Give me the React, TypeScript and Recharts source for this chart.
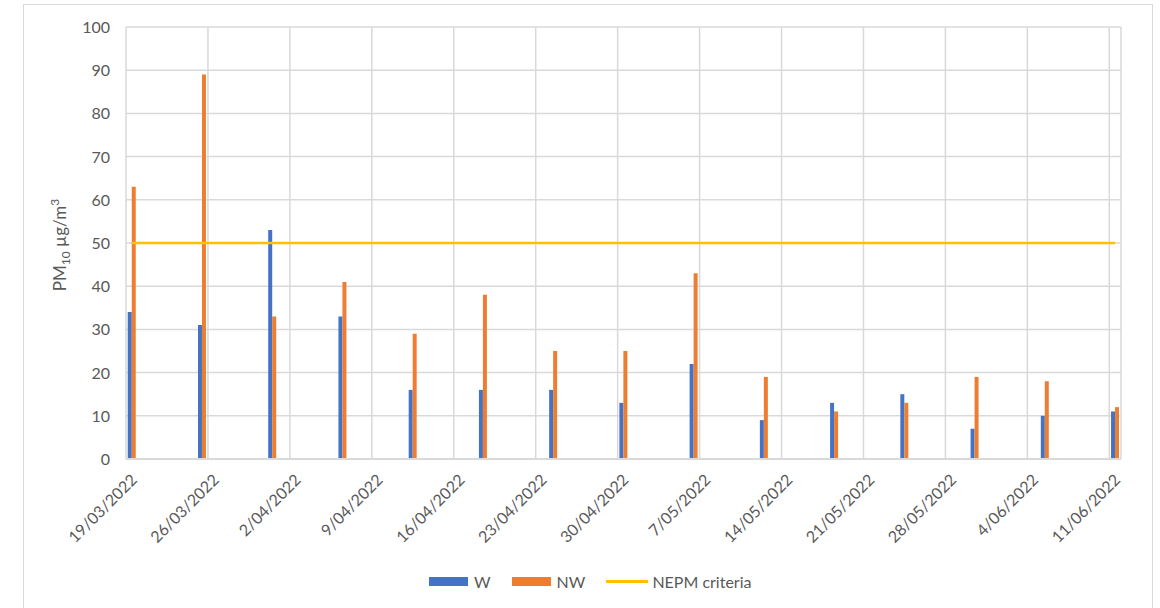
import {
  Bar,
  CartesianGrid,
  ComposedChart,
  Line,
  XAxis,
  YAxis,
} from "recharts";

const FONT = "Lato, 'Liberation Sans', sans-serif";
const TEXT = "#595959";
const GRID = "#d9d9d9";

// sampling dates (every 6 days)
const sampleDates = [
  "19/03/2022", "25/03/2022", "31/03/2022", "6/04/2022", "12/04/2022",
  "18/04/2022", "24/04/2022", "30/04/2022", "6/05/2022", "12/05/2022",
  "18/05/2022", "24/05/2022", "30/05/2022", "5/06/2022", "11/06/2022",
];
const wValues = [34, 31, 53, 33, 16, 16, 16, 13, 22, 9, 13, 15, 7, 10, 11];
const nwValues = [63, 89, 33, 41, 29, 38, 25, 25, 43, 19, 11, 13, 19, 18, 12];
const nepmCriteria = 50;

const tickDates = [
  "19/03/2022", "26/03/2022", "2/04/2022", "9/04/2022", "16/04/2022",
  "23/04/2022", "30/04/2022", "7/05/2022", "14/05/2022", "21/05/2022",
  "28/05/2022", "4/06/2022", "11/06/2022",
];
const yTicks = [0, 10, 20, 30, 40, 50, 60, 70, 80, 90, 100];

const series = [
  { key: "w", name: "W", color: "#4472C4", kind: "bar" },
  { key: "nw", name: "NW", color: "#ED7D31", kind: "bar" },
  { key: "nepm", name: "NEPM criteria", color: "#FFC000", kind: "line" },
];

const DAY = 24 * 60 * 60 * 1000;
const toTime = (s: string) => {
  const [d, m, y] = s.split("/").map(Number);
  return Date.UTC(y, m - 1, d);
};
const start = toTime(sampleDates[0]);
const dayIndex = (s: string) => Math.round((toTime(s) - start) / DAY);
const totalDays = dayIndex(tickDates[tickDates.length - 1]) + 1;

// bars sit in the middle of their day
const data = sampleDates.map((d, i) => ({
  x: dayIndex(d) + 0.5,
  w: wValues[i],
  nw: nwValues[i],
  nepm: nepmCriteria,
}));
const xTicks = tickDates.map(dayIndex);
const tickLabel = new Map(tickDates.map((d) => [dayIndex(d), d]));

const XTick = ({ x, y, payload }: any) => (
  <g transform={`translate(${x + 12},${y + 14}) rotate(-45)`}>
    <text textAnchor="end" fill={TEXT} fontSize={16} fontFamily={FONT}>
      {tickLabel.get(payload.value)}
    </text>
  </g>
);

const YTick = ({ x, y, payload }: any) => (
  <text x={x} y={y} dy={6} textAnchor="end" fill={TEXT} fontSize={16} fontFamily={FONT}>
    {payload.value}
  </text>
);

const YLabel = () => (
  <text
    x={66}
    y={245}
    transform="rotate(-90 66 245)"
    textAnchor="middle"
    fill={TEXT}
    fontSize={17}
    fontFamily={FONT}
  >
    <tspan>PM</tspan>
    <tspan dy={4} fontSize={12}>10</tspan>
    <tspan dy={-4}> µg/m</tspan>
    <tspan dy={-7} fontSize={12}>3</tspan>
  </text>
);

function ChartLegend() {
  return (
    <div
      style={{
        position: "absolute",
        left: 429,
        top: 572,
        display: "flex",
        alignItems: "center",
        fontFamily: FONT,
        fontSize: 16,
        color: TEXT,
      }}
    >
      {series.map((s) => (
        <div key={s.key} style={{ display: "flex", alignItems: "center", marginRight: 21 }}>
          {s.kind === "line" ? (
            <div style={{ width: 42, height: 3, background: s.color, marginRight: 4 }} />
          ) : (
            <div style={{ width: 39, height: 9, background: s.color, marginRight: 6 }} />
          )}
          <span>{s.name}</span>
        </div>
      ))}
    </div>
  );
}

export default function App() {
  return (
    <div style={{ position: "relative", width: 1160, height: 608, background: "#fff", overflow: "hidden" }}>
      <style>{`body{margin:0;overflow:hidden}`}</style>
      <div
        style={{
          position: "absolute",
          left: 23,
          top: 4,
          width: 1128,
          height: 620,
          border: `1px solid ${GRID}`,
        }}
      />
      <ComposedChart
        width={1160}
        height={608}
        data={data}
        margin={{ top: 27, right: 39, bottom: 119, left: 0 }}
        barGap={0}
        style={{ position: "absolute", left: 0, top: 0 }}
      >
        <CartesianGrid stroke={GRID} strokeWidth={1.5} />
        <XAxis
          dataKey="x"
          type="number"
          domain={[0, totalDays]}
          ticks={xTicks}
          interval={0}
          height={30}
          tickLine={false}
          axisLine={{ stroke: GRID, strokeWidth: 2 }}
          tick={<XTick />}
        />
        <YAxis
          type="number"
          domain={[0, 100]}
          ticks={yTicks}
          interval={0}
          width={126}
          tickLine={false}
          axisLine={false}
          tickSize={0}
          tickMargin={16}
          tick={<YTick />}
          label={<YLabel />}
        />
        {series
          .filter((s) => s.kind === "bar")
          .map((s) => (
            <Bar
              key={s.key}
              dataKey={s.key}
              name={s.name}
              fill={s.color}
              barSize={4}
              isAnimationActive={false}
            />
          ))}
        <Line
          dataKey="nepm"
          name="NEPM criteria"
          stroke="#FFC000"
          strokeWidth={2.5}
          dot={false}
          isAnimationActive={false}
        />
      </ComposedChart>
      <ChartLegend />
    </div>
  );
}
